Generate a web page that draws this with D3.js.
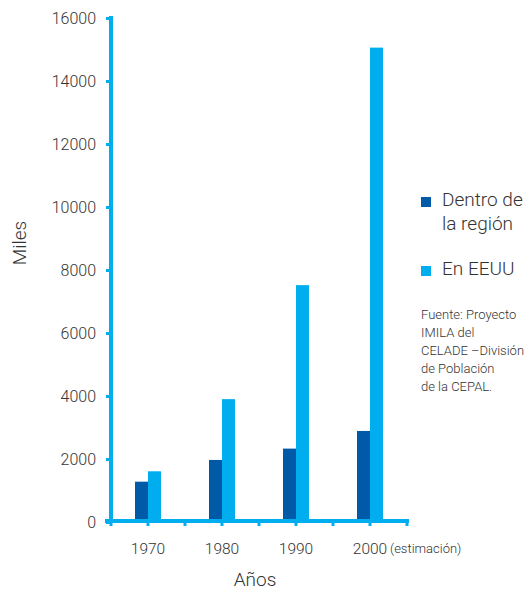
<!DOCTYPE html>
<html>
<head>
<meta charset="utf-8">
<script src="https://cdn.jsdelivr.net/npm/d3@7"></script>
<style>
  body { margin: 0; background: #fff; }
  text { font-family: Roboto, "Open Sans", sans-serif; font-weight: 300; fill: #333; }
</style>
</head>
<body>
<svg width="531" height="591"></svg>
<script>
// datos del grafico
var anios = ["1970", "1980", "1990", "2000"];
var dentro = [1280, 1970, 2330, 2890];
var eeuu = [1610, 3900, 7520, 15060];
var ticksY = [0, 2000, 4000, 6000, 8000, 10000, 12000, 14000, 16000];
var series = ["Dentro de la región", "En EEUU"];
var colores = ["#005aa7", "#00aeef"];
var eje = "#00aeef";

var svg = d3.select("svg");

var x = d3.scaleBand().domain(anios).range([111, 407]);
var y = d3.scaleLinear().domain([0, 16000]).range([522, 18]);
var barW = 13;

// barras
var datos = anios.map(function(a, i) { return {anio: a, v: [dentro[i], eeuu[i]]}; });
var grupos = svg.selectAll("g.grupo").data(datos).enter().append("g").attr("class", "grupo");
grupos.selectAll("rect")
  .data(function(d) { return d.v; })
  .enter()
  .append("rect")
  .attr("x", function(d, i, n) {
    var a = d3.select(n[i].parentNode).datum().anio;
    return x(a) + x.bandwidth() / 2 - barW + i * barW;
  })
  .attr("y", function(d) { return y(d); })
  .attr("width", barW)
  .attr("height", function(d) { return y(0) - y(d); })
  .attr("fill", function(d, i) { return colores[i]; });

// eje y
var ejeY = svg.append("g").attr("transform", "translate(111,0)")
  .call(d3.axisLeft(y).tickValues(ticksY).tickSize(5).tickPadding(10).tickSizeOuter(0).tickFormat(d3.format("d")));
ejeY.select(".domain").attr("stroke", eje).attr("stroke-width", 4).attr("d", "M0,16V" + (y(0)));
ejeY.selectAll(".tick line").attr("stroke", eje).attr("stroke-width", 3);
ejeY.selectAll(".tick text").style("font-size", "16px").attr("fill", "#333");

// eje x con marcas en bordes y centros
var marcasX = [];
anios.forEach(function(a) { marcasX.push(x(a)); marcasX.push(x(a) + x.bandwidth() / 2); });
marcasX.push(x.range()[1]);
var ejeX = svg.append("g");
ejeX.append("line").attr("x1", 105).attr("x2", 409).attr("y1", y(0) - 1).attr("y2", y(0) - 1)
  .attr("stroke", eje).attr("stroke-width", 4);
ejeX.selectAll("line.m").data(marcasX).enter().append("line").attr("class", "m")
  .attr("x1", function(d) { return d; }).attr("x2", function(d) { return d; })
  .attr("y1", y(0)).attr("y2", y(0) + 4)
  .attr("stroke", eje).attr("stroke-width", 3);
ejeX.selectAll("text").data(anios).enter().append("text")
  .attr("x", function(d) { return x(d) + x.bandwidth() / 2; })
  .attr("y", 554)
  .attr("text-anchor", "middle")
  .style("font-size", "15.5px")
  .text(function(d) { return d; });
svg.append("text").attr("x", 390).attr("y", 553).style("font-size", "13px").text("(estimación)");

// titulos de ejes
svg.append("text").attr("transform", "translate(26,243) rotate(-90)").attr("text-anchor", "middle")
  .style("font-size", "19px").text("Miles");
svg.append("text").attr("x", 255).attr("y", 586).attr("text-anchor", "middle")
  .style("font-size", "19px").text("Años");

// leyenda
var ley = [
  {c: colores[0], y: 197, lineas: ["Dentro de", "la región"]},
  {c: colores[1], y: 266, lineas: ["En EEUU"]}
];
ley.forEach(function(l) {
  svg.append("rect").attr("x", 421).attr("y", l.y).attr("width", 10).attr("height", 10).attr("fill", l.c);
  l.lineas.forEach(function(t, j) {
    svg.append("text").attr("x", 442).attr("y", l.y + 9 + j * 24).style("font-size", "19px").text(t);
  });
});

var fuente = ["Fuente: Proyecto", "IMILA del", "CELADE –División", "de Población", "de la CEPAL."];
svg.selectAll("text.fuente").data(fuente).enter().append("text").attr("class", "fuente")
  .attr("x", 421).attr("y", function(d, i) { return 319 + i * 18; })
  .style("font-size", "13px").text(function(d) { return d; });
</script>
</body>
</html>
